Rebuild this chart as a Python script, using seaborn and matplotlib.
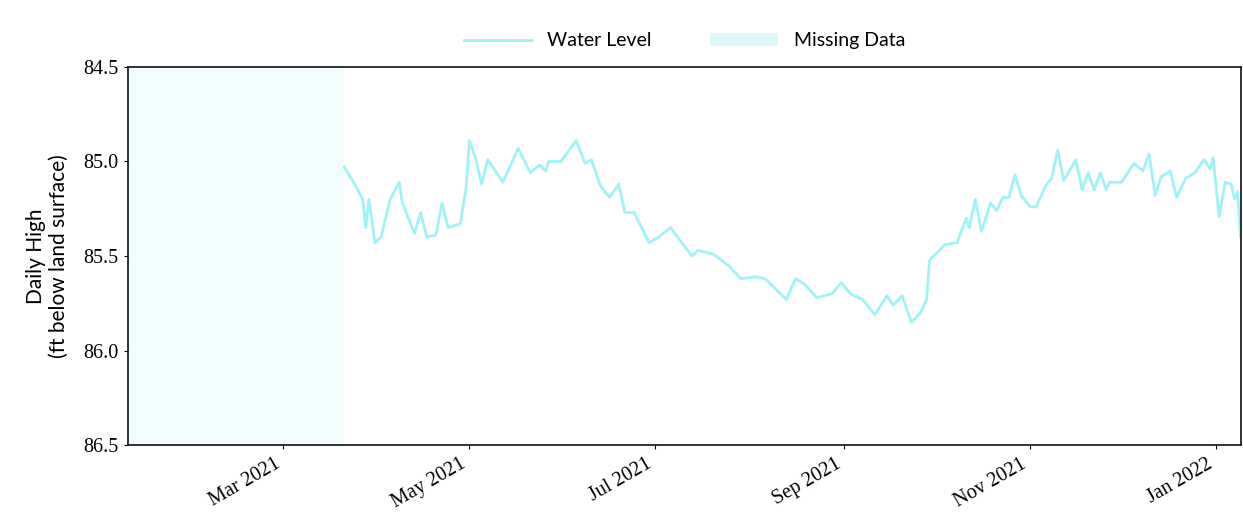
import matplotlib
matplotlib.use("Agg")
import matplotlib.pyplot as plt
import matplotlib.dates as mdates
from matplotlib.patches import Patch
from matplotlib.lines import Line2D
import pandas as pd
import seaborn as sns

# readings
dates = [
    "2021-03-21", "2021-03-24", "2021-03-27", "2021-03-28", "2021-03-29", "2021-03-31",
    "2021-04-02", "2021-04-05", "2021-04-08", "2021-04-09", "2021-04-13", "2021-04-15",
    "2021-04-17", "2021-04-20", "2021-04-22", "2021-04-24", "2021-04-28", "2021-04-30",
    "2021-05-01", "2021-05-03", "2021-05-05", "2021-05-07", "2021-05-12", "2021-05-17",
    "2021-05-21", "2021-05-24", "2021-05-26", "2021-05-27", "2021-05-31", "2021-06-05",
    "2021-06-08", "2021-06-10", "2021-06-13", "2021-06-16", "2021-06-19", "2021-06-21",
    "2021-06-24", "2021-06-29", "2021-07-02", "2021-07-06", "2021-07-13", "2021-07-15",
    "2021-07-20", "2021-07-25", "2021-07-29", "2021-08-03", "2021-08-06", "2021-08-13",
    "2021-08-16", "2021-08-19", "2021-08-23", "2021-08-28", "2021-08-31", "2021-09-03",
    "2021-09-07", "2021-09-11", "2021-09-15", "2021-09-17", "2021-09-20", "2021-09-23",
    "2021-09-26", "2021-09-28", "2021-09-29", "2021-10-01", "2021-10-04", "2021-10-08",
    "2021-10-11", "2021-10-12", "2021-10-14", "2021-10-16", "2021-10-19", "2021-10-21",
    "2021-10-23", "2021-10-25", "2021-10-27", "2021-10-29", "2021-11-01", "2021-11-03",
    "2021-11-06", "2021-11-08", "2021-11-10", "2021-11-12", "2021-11-16", "2021-11-18",
    "2021-11-20", "2021-11-22", "2021-11-24", "2021-11-26", "2021-11-27", "2021-12-01",
    "2021-12-05", "2021-12-08", "2021-12-10", "2021-12-12", "2021-12-14", "2021-12-17",
    "2021-12-19", "2021-12-22", "2021-12-25", "2021-12-28", "2021-12-30", "2021-12-31",
    "2022-01-02", "2022-01-04", "2022-01-06", "2022-01-07", "2022-01-08", "2022-01-09",
]
water_level = [
    85.03, 85.11, 85.20, 85.35, 85.20, 85.43,
    85.40, 85.20, 85.11, 85.22, 85.38, 85.27,
    85.40, 85.39, 85.22, 85.35, 85.33, 85.13,
    84.89, 84.98, 85.12, 84.99, 85.11, 84.93,
    85.06, 85.02, 85.05, 85.00, 85.00, 84.89,
    85.01, 84.99, 85.13, 85.19, 85.12, 85.27,
    85.27, 85.43, 85.40, 85.35, 85.50, 85.47,
    85.49, 85.55, 85.62, 85.61, 85.62, 85.73,
    85.62, 85.65, 85.72, 85.70, 85.64, 85.70,
    85.73, 85.81, 85.71, 85.76, 85.71, 85.85,
    85.80, 85.73, 85.52, 85.49, 85.44, 85.43,
    85.30, 85.35, 85.20, 85.37, 85.22, 85.26,
    85.19, 85.19, 85.07, 85.18, 85.24, 85.24,
    85.13, 85.09, 84.94, 85.10, 84.99, 85.15,
    85.06, 85.15, 85.06, 85.15, 85.11, 85.11,
    85.01, 85.05, 84.96, 85.18, 85.08, 85.05,
    85.19, 85.09, 85.06, 84.99, 85.04, 84.98,
    85.29, 85.11, 85.12, 85.20, 85.16, 85.40,
]
missing_start = "2021-01-09"
missing_end = "2021-03-21"
x_start = "2021-01-09"
x_end = "2022-01-09"
y_ticks = [84.5, 85.0, 85.5, 86.0, 86.5]

df = pd.DataFrame({"date": pd.to_datetime(dates), "level": water_level})

line_color = "#9ff2f6"
gap_color = "#f1fcfd"

fig = plt.figure(figsize=(12.43, 5.23), dpi=100)
ax = fig.add_axes([0.103, 0.149, 0.895, 0.723])

ax.axvspan(pd.Timestamp(missing_start), pd.Timestamp(missing_end), color=gap_color, lw=0)
sns.lineplot(data=df, x="date", y="level", ax=ax, color=line_color, linewidth=2.0)

ax.set_xlim(pd.Timestamp(x_start), pd.Timestamp(x_end))
ax.set_ylim(86.5, 84.5)
ax.set_yticks(y_ticks)
ax.set_yticklabels([f"{t:.1f}" for t in y_ticks], family="Liberation Serif", fontsize=14.5)

ax.xaxis.set_major_locator(mdates.MonthLocator(bymonth=[1, 3, 5, 7, 9, 11]))
ax.xaxis.set_major_formatter(mdates.DateFormatter("%b %Y"))
for lab in ax.get_xticklabels():
    lab.set_rotation(30)
    lab.set_ha("right")
    lab.set_family("Liberation Serif")
    lab.set_fontsize(14.5)

ax.set_xlabel("")
ax.set_ylabel("Daily High\n(ft below land surface)", fontsize=15, family="Lato", labelpad=10)

for sp in ax.spines.values():
    sp.set_color("#222222")
    sp.set_linewidth(1.3)
ax.tick_params(length=3, width=0.8, pad=4)

handles = [Line2D([0], [0], color=line_color, lw=2),
           Patch(facecolor="#dff9fb", edgecolor="none")]
ax.legend(handles, ["Water Level", "Missing Data"], loc="lower center",
          bbox_to_anchor=(0.5, 1.0), ncol=2, frameon=False,
          columnspacing=3, handlelength=3.5, prop={"family": "Lato", "size": 14})

fig.savefig("out.png", dpi=100)
